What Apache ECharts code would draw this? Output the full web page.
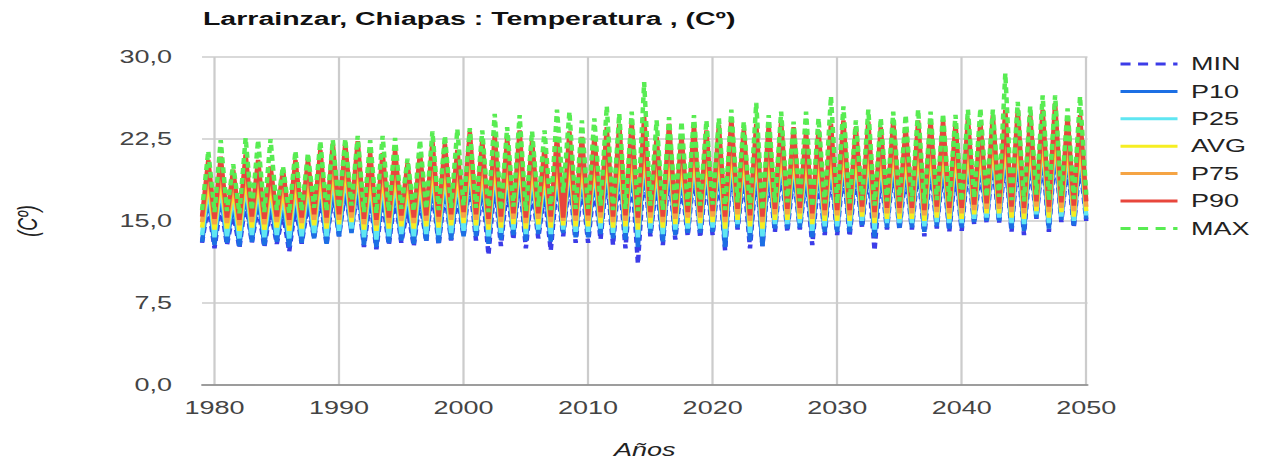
<!DOCTYPE html>
<html>
<head>
<meta charset="utf-8">
<script src="https://cdn.jsdelivr.net/npm/echarts@6/dist/echarts.min.js"></script>
<style>
  html, body { margin: 0; padding: 0; background: #fff; overflow: hidden; }
  #wrap { width: 1262px; height: 460px; overflow: hidden; }
  #chart { width: 841.33px; height: 460px; transform: scaleX(1.5); transform-origin: 0 0; }
</style>
</head>
<body>
<div id="wrap"><div id="chart"></div></div>
<script>
// ---------- DATA ----------
const TITLE = 'Larrainzar, Chiapas : Temperatura , (Cº)';
const SERIES_NAMES = ['MIN', 'P10', 'P25', 'AVG', 'P75', 'P90', 'MAX'];
const X_TICKS = [1980, 1990, 2000, 2010, 2020, 2030, 2040, 2050];
const Y_TICKS = [0, 7.5, 15, 22.5, 30];
const FIRST_YEAR = 1979;   // first January shown
const PEAK_OFFSET = 0.5;   // mid-year warm peak

// January (trough) values, 1979..2050
const tr_min = [13.0,12.5,12.8,12.5,13.0,12.6,12.9,12.2,12.9,13.4,
  12.8,13.6,14.0,12.6,12.4,12.8,13.0,12.7,13.1,12.8,
  13.2,13.6,13.2,11.9,12.7,13.3,12.5,13.4,12.3,13.6,
  13.0,13.0,13.3,12.8,12.5,11.1,13.6,12.8,13.3,13.6,
  13.5,13.7,12.3,14.2,12.5,12.7,14.0,14.0,14.2,12.8,
  13.7,13.7,13.6,14.4,12.3,14.2,14.2,14.2,13.6,14.3,
  14.0,14.1,14.7,14.8,14.8,14.0,13.7,15.2,14.0,14.9,
  14.4,15.0];
const tr_p10 = [13.1,12.8,13.0,12.7,13.1,12.8,13.1,12.6,13.0,13.4,
  12.9,13.6,13.9,12.8,12.6,13.0,13.2,12.9,13.2,13.0,
  13.3,13.6,13.6,12.9,13.3,13.7,13.2,13.8,13.1,13.9,
  13.5,13.5,13.8,13.4,13.3,12.6,13.9,13.1,13.7,13.9,
  13.9,14.0,12.6,14.4,13.2,12.7,14.3,14.3,14.4,13.5,
  14.0,14.0,14.0,14.6,13.5,14.4,14.4,14.4,14.0,14.5,
  14.3,14.4,14.9,15.0,15.0,14.3,14.1,15.3,14.3,15.1,
  14.6,15.2];
const tr_p25 = [13.7,13.5,13.6,13.4,13.7,13.5,13.7,13.4,13.6,13.9,
  13.6,14.1,14.3,13.5,13.3,13.6,13.8,13.6,13.8,13.7,
  13.9,14.1,14.1,13.6,13.9,14.2,13.8,14.2,13.8,14.2,
  14.0,14.0,14.3,13.9,13.9,13.5,14.3,13.8,14.2,14.3,
  14.3,14.4,13.5,14.7,13.9,13.6,14.7,14.7,14.8,14.1,
  14.5,14.5,14.5,15.0,14.2,14.8,14.8,14.8,14.5,14.9,
  14.8,14.8,15.2,15.3,15.3,14.8,14.7,15.6,14.8,15.4,
  15.0,15.5];
const tr_avg = [14.4,14.2,14.3,14.1,14.4,14.2,14.4,14.1,14.3,14.6,
  14.3,14.7,14.9,14.2,14.1,14.3,14.5,14.3,14.5,14.4,
  14.6,14.8,14.6,14.2,14.4,14.7,14.3,14.7,14.4,14.6,
  14.5,14.5,14.8,14.4,14.5,14.2,14.8,14.4,14.7,14.8,
  14.8,14.9,14.3,15.1,14.5,14.3,15.1,15.1,15.2,14.7,
  15.0,15.0,15.0,15.4,14.8,15.2,15.2,15.2,15.0,15.3,
  15.2,15.2,15.6,15.7,15.7,15.3,15.2,15.9,15.3,15.8,
  15.4,15.9];
const tr_p75 = [14.9,14.7,14.8,14.6,14.9,14.7,14.9,14.6,14.8,15.1,
  14.8,15.1,15.3,14.7,14.6,14.8,15.0,14.8,15.0,14.9,
  15.1,15.3,15.1,14.7,14.9,15.2,14.8,15.2,14.9,15.0,
  15.0,15.0,15.3,14.9,15.0,14.8,15.3,14.9,15.2,15.3,
  15.3,15.4,14.9,15.6,15.0,14.9,15.6,15.6,15.7,15.2,
  15.5,15.5,15.5,15.8,15.3,15.7,15.7,15.7,15.5,15.8,
  15.7,15.7,16.0,16.1,16.1,15.8,15.7,16.3,15.8,16.2,
  15.9,16.3];
const tr_p90 = [15.4,15.2,15.3,15.1,15.4,15.2,15.4,15.1,15.3,15.6,
  15.3,15.6,15.8,15.2,15.1,15.3,15.5,15.3,15.5,15.4,
  15.6,15.8,15.6,15.2,15.4,15.7,15.3,15.7,15.4,15.3,
  15.5,15.5,15.8,15.4,15.5,15.3,15.8,15.4,15.7,15.8,
  15.8,15.9,15.4,16.1,15.5,15.4,16.1,16.1,16.2,15.7,
  16.0,16.0,16.0,16.3,15.8,16.2,16.2,16.2,16.0,16.3,
  16.2,16.2,16.5,16.6,16.6,16.3,16.2,16.8,16.3,16.7,
  16.4,16.8];
const tr_max = [16.0,15.8,15.9,15.7,16.0,15.8,16.0,15.7,15.9,16.2,
  15.9,16.2,16.4,15.8,15.7,15.9,16.1,15.9,16.1,16.0,
  16.2,16.4,16.2,15.8,16.0,16.3,15.9,16.3,16.0,17.6,
  16.1,16.1,16.4,16.0,16.1,15.9,16.4,16.0,16.3,16.4,
  16.4,16.5,16.0,16.7,16.1,16.0,16.7,16.7,16.8,16.3,
  16.6,16.6,16.6,16.9,16.4,16.8,16.8,16.8,16.6,16.9,
  16.8,16.8,17.1,17.2,17.2,16.9,16.8,17.4,16.9,17.3,
  17.0,17.4];

// mid-year (peak) values, 1979..2049
const pk_min = [16.5,16.6,15.8,16.9,16.4,16.0,15.7,16.4,16.5,17.2,
  17.6,17.8,17.9,17.0,17.0,17.3,16.2,17.0,17.9,17.8,
  17.3,18.7,18.2,18.5,18.2,19.0,18.1,17.6,18.5,18.9,
  18.5,18.4,19.3,19.4,19.7,20.0,18.5,19.6,18.6,19.5,
  19.0,19.4,20.0,19.2,19.6,19.5,19.8,19.4,19.0,19.1,
  19.6,19.9,19.4,19.8,19.4,19.9,19.4,19.9,19.9,19.9,
  19.6,20.1,19.8,20.4,20.8,20.9,20.4,20.9,21.4,20.3,
  20.4];
const pk_p10 = [17.6,17.8,16.8,18.0,17.6,17.1,16.8,17.5,17.6,18.3,
  18.8,18.9,19.1,18.1,18.2,18.4,17.3,18.1,19.1,18.9,
  18.4,19.9,19.3,19.6,19.4,20.1,19.2,18.7,19.6,20.0,
  19.6,19.6,20.4,20.6,20.8,21.2,19.6,20.7,19.7,20.6,
  20.1,20.6,21.1,20.3,20.7,20.6,20.9,20.5,20.1,20.2,
  20.7,21.0,20.5,20.9,20.5,21.0,20.5,21.0,21.0,21.0,
  20.7,21.2,20.9,21.5,21.9,22.0,21.5,22.0,22.5,21.4,
  21.5];
const pk_p25 = [18.3,18.5,17.5,18.7,18.3,17.8,17.5,18.2,18.3,19.0,
  19.5,19.6,19.8,18.8,18.9,19.1,18.0,18.8,19.8,19.6,
  19.1,20.6,20.0,20.3,20.1,20.8,19.9,19.4,20.3,20.7,
  20.3,20.3,21.1,21.3,21.5,21.9,20.3,21.4,20.4,21.3,
  20.8,21.3,21.8,21.0,21.4,21.3,21.6,21.2,20.8,20.9,
  21.4,21.7,21.2,21.6,21.2,21.7,21.2,21.7,21.7,21.7,
  21.4,21.9,21.6,22.2,22.6,22.7,22.2,22.7,23.2,22.1,
  22.2];
const pk_avg = [19.0,19.2,18.2,19.4,19.0,18.5,18.2,18.9,19.0,19.7,
  20.2,20.3,20.5,19.5,19.6,19.8,18.7,19.5,20.5,20.3,
  19.8,21.3,20.7,21.0,20.8,21.5,20.6,20.1,21.0,21.4,
  21.0,21.0,21.8,22.0,22.2,22.6,21.0,22.1,21.1,22.0,
  21.5,22.0,22.5,21.7,22.1,22.0,22.3,21.9,21.5,21.6,
  22.1,22.4,21.9,22.3,21.9,22.4,21.9,22.4,22.4,22.4,
  22.1,22.6,22.3,22.9,23.3,23.4,22.9,23.4,23.9,22.8,
  22.9];
const pk_p75 = [19.8,20.0,19.0,20.2,19.8,19.3,18.9,19.7,19.8,20.5,
  21.0,21.1,21.3,20.3,20.4,20.6,19.5,20.3,21.3,21.1,
  20.6,22.1,21.5,21.8,21.6,22.3,21.4,20.9,21.8,22.2,
  21.8,21.8,22.6,22.8,23.0,23.4,21.8,22.9,21.9,22.8,
  22.3,22.8,23.3,22.5,22.9,22.8,23.1,22.7,22.3,22.4,
  22.9,23.2,22.7,23.1,22.7,23.2,22.7,23.2,23.2,23.2,
  22.9,23.4,23.1,23.7,24.1,24.2,23.7,24.2,24.7,23.6,
  23.7];
const pk_p90 = [20.6,20.9,19.7,21.1,20.6,20.0,19.7,20.6,20.6,21.5,
  22.1,22.1,22.3,21.2,21.2,21.5,20.3,21.2,22.3,22.1,
  21.5,23.2,22.4,22.8,22.6,23.3,22.3,21.7,22.7,23.2,
  22.7,22.7,23.6,23.9,24.1,24.5,22.7,23.9,22.8,23.8,
  23.3,23.8,24.4,23.4,23.9,23.8,24.1,23.6,23.2,23.3,
  23.9,24.2,23.6,24.1,23.6,24.2,23.6,24.2,24.2,24.2,
  23.9,24.4,24.1,24.7,25.2,25.2,24.7,25.2,25.8,24.6,
  24.7];
const pk_max = [21.4,22.4,20.2,22.6,22.4,22.5,20.0,21.4,21.2,22.3,
  22.4,22.5,22.8,22.4,22.8,22.6,20.7,22.4,23.2,22.8,
  23.4,23.5,23.3,24.8,23.6,24.7,23.2,23.3,25.2,25.0,
  24.2,24.4,25.5,24.8,25.0,27.7,24.2,24.5,24.1,24.7,
  24.2,24.4,25.2,24.1,25.8,24.7,25.0,24.1,25.0,24.4,
  26.4,25.5,24.2,25.2,24.4,25.0,24.7,25.2,25.0,24.8,
  24.7,25.2,25.3,25.2,28.5,25.9,25.5,26.5,26.5,25.3,
  26.4];

// ---------- BUILD ----------
function build(tr, pk) {
  const d = [];
  for (let i = 0; i < tr.length; i++) {
    d.push([FIRST_YEAR + i, tr[i]]);
    if (i < pk.length) d.push([FIRST_YEAR + i + PEAK_OFFSET, pk[i]]);
  }
  return d;
}
const TROUGHS = [tr_min, tr_p10, tr_p25, tr_avg, tr_p75, tr_p90, tr_max];
const PEAKS   = [pk_min, pk_p10, pk_p25, pk_avg, pk_p75, pk_p90, pk_max];
const COLORS  = ['#3c3ce8', '#1c6fe4', '#5fe6f2', '#f6ee22', '#f5a444', '#e8463c', '#58ec52'];
const DASHED  = [true, false, false, false, false, false, true];

const FONT = 'Liberation Sans, Arial, sans-serif';
const chart = echarts.init(document.getElementById('chart'), null, { renderer: 'svg' });

const series = SERIES_NAMES.map((name, k) => ({
  name: name,
  type: 'line',
  data: build(TROUGHS[k], PEAKS[k]),
  showSymbol: false,
  symbol: 'none',
  silent: true,
  color: COLORS[k],
  lineStyle: { width: 3, color: COLORS[k], type: DASHED[k] ? [6, 4] : 'solid', cap: 'butt' }
}));

chart.setOption({
  animation: false,
  backgroundColor: '#ffffff',
  title: {
    text: TITLE,
    left: 135.3, top: 9, padding: 0,
    textStyle: { fontFamily: FONT, fontSize: 19, fontWeight: 'bold', color: '#111' }
  },
  legend: {
    orient: 'vertical',
    left: 745.5, top: 55, padding: 0,
    itemWidth: 38, itemHeight: 14, itemGap: 9.4,
    itemStyle: { opacity: 0 },
    textStyle: { fontFamily: FONT, fontSize: 18, color: '#222', padding: [0, 0, 0, 4] },
    data: SERIES_NAMES.map((n, k) => DASHED[k]
      ? { name: n, lineStyle: { type: [6.7, 5], width: 3 } }
      : { name: n, lineStyle: { width: 3 } })
  },
  grid: { left: 134.7, right: 116, top: 57, bottom: 75, containLabel: false, outerBoundsMode: 'none' },
  xAxis: {
    type: 'value',
    min: 1979, max: 2050.1,
    name: 'Años', nameLocation: 'middle', nameGap: 56,
    nameTextStyle: { fontFamily: FONT, fontSize: 18, fontStyle: 'italic', color: '#222' },
    axisLine: { show: true, lineStyle: { color: '#888', width: 1.5 } },
    axisTick: { show: false, customValues: X_TICKS },
    axisLabel: { customValues: X_TICKS, fontFamily: FONT, fontSize: 18, color: '#444', margin: 14,
      formatter: v => String(Math.round(v)) },
    splitLine: { show: true, lineStyle: { color: '#cccccc', width: 1.5 } }
  },
  yAxis: {
    type: 'value',
    min: Y_TICKS[0], max: Y_TICKS[Y_TICKS.length - 1], interval: 7.5,
    name: '(Cº)', nameLocation: 'middle', nameGap: 107,
    nameTextStyle: { fontFamily: FONT, fontSize: 18, fontStyle: 'italic', color: '#222' },
    axisLine: { show: false },
    axisTick: { show: false },
    axisLabel: {
      fontFamily: FONT, fontSize: 18, color: '#444', margin: 20,
      formatter: v => v.toFixed(1).replace('.', ',')
    },
    splitLine: { show: true, lineStyle: { color: '#cccccc', width: 1.5 } }
  },
  series: series
});
</script>
</body>
</html>
